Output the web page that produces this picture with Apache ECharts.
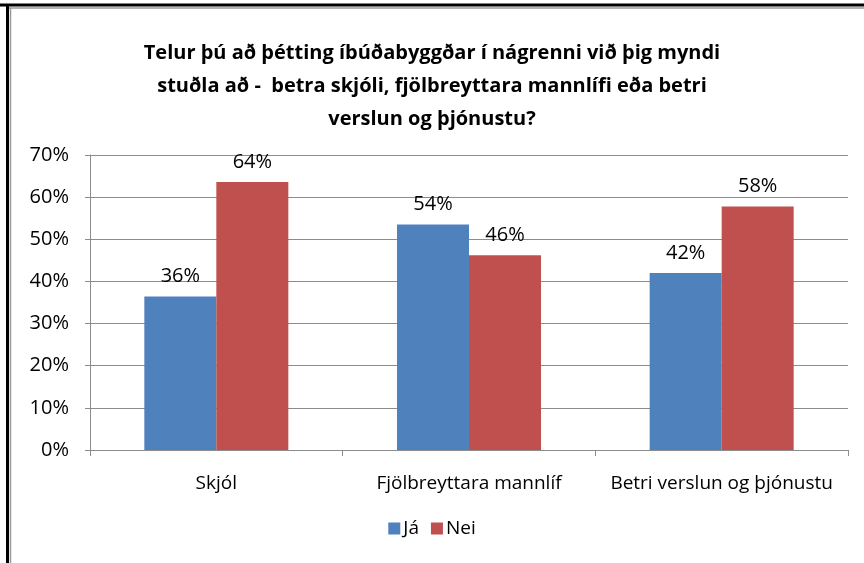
<!DOCTYPE html>
<html>
<head>
<meta charset="utf-8">
<style>
  html, body { margin: 0; padding: 0; background: #fff; }
  #chart { width: 864px; height: 563px; }
</style>
<script src="https://cdn.jsdelivr.net/npm/echarts@6/dist/echarts.min.js"></script>
</head>
<body>
<div id="chart"></div>
<script>
// gögn
const categories = ['Skjól', 'Fjölbreyttara mannlíf', 'Betri verslun og þjónustu'];
const jaValues = [0.364, 0.535, 0.42];
const neiValues = [0.636, 0.462, 0.578];
const seriesNames = ['Já', 'Nei'];
const titleText = 'Telur þú að þétting íbúðabyggðar í nágrenni við þig myndi\nstuðla að -  betra skjóli, fjölbreyttara mannlífi eða betri\nverslun og þjónustu?';

const font = '"Liberation Sans Narrow", "Open Sans", sans-serif';
const pct = v => Math.round(v * 100) + '%';

const chart = echarts.init(document.getElementById('chart'));

chart.setOption({
  animation: false,
  backgroundColor: '#fff',
  title: {
    text: titleText,
    left: 'center',
    top: 32,
    textStyle: {
      fontFamily: font,
      fontSize: 20,
      fontWeight: 'bold',
      color: '#000',
      lineHeight: 33
    }
  },
  graphic: [
    { type: 'line', shape: { x1: 0, y1: 5, x2: 864, y2: 5 }, style: { stroke: '#000', lineWidth: 3 } },
    { type: 'line', shape: { x1: 8, y1: 8, x2: 864, y2: 8 }, style: { stroke: '#999', lineWidth: 1.5 } },
    { type: 'line', shape: { x1: 7.5, y1: 4, x2: 7.5, y2: 563 }, style: { stroke: '#000', lineWidth: 3 } },
    { type: 'line', shape: { x1: 10.5, y1: 8, x2: 10.5, y2: 563 }, style: { stroke: '#999', lineWidth: 1.5 } }
  ],
  legend: {
    data: seriesNames,
    bottom: 20,
    left: 'center',
    icon: 'rect',
    itemWidth: 12,
    itemHeight: 12,
    itemGap: 12,
    textStyle: { fontFamily: font, fontSize: 19, color: '#000', padding: [0, 0, 0, -2] }
  },
  grid: {
    left: 90,
    right: 16,
    top: 155,
    bottom: 113
  },
  xAxis: {
    type: 'category',
    data: categories,
    axisLine: { lineStyle: { color: '#8c8c8c', width: 1 } },
    axisTick: { show: true, length: 6, lineStyle: { color: '#8c8c8c' } },
    axisLabel: { interval: 0, fontFamily: font, fontSize: 19, color: '#000', margin: 24 }
  },
  yAxis: {
    type: 'value',
    min: 0,
    max: 0.7,
    interval: 0.1,
    axisLine: { show: true, lineStyle: { color: '#8c8c8c', width: 1 } },
    axisTick: { show: true, length: 5, lineStyle: { color: '#8c8c8c' } },
    splitLine: { lineStyle: { color: '#8c8c8c', width: 1 } },
    axisLabel: { fontFamily: font, fontSize: 20, color: '#000', margin: 21, formatter: pct }
  },
  series: [
    {
      name: seriesNames[0],
      type: 'bar',
      data: jaValues,
      barGap: '0%',
      barCategoryGap: '43%',
      itemStyle: { color: '#4f81bd' },
      label: { show: true, position: 'top', distance: 10, formatter: p => pct(p.value), fontFamily: font, fontSize: 20, color: '#000' }
    },
    {
      name: seriesNames[1],
      type: 'bar',
      data: neiValues,
      itemStyle: { color: '#c0504d' },
      label: { show: true, position: 'top', distance: 10, formatter: p => pct(p.value), fontFamily: font, fontSize: 20, color: '#000' }
    }
  ]
});
</script>
</body>
</html>
